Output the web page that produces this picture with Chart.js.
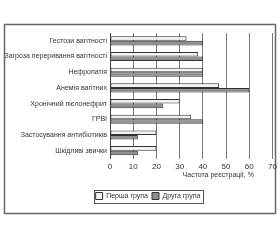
<!DOCTYPE html>
<html><head><meta charset="utf-8">
<script src="https://cdn.jsdelivr.net/npm/chart.js@4.4.0/dist/chart.umd.min.js"></script>
<style>html,body{margin:0;padding:0;background:#fff}#wrap{width:280px;height:240px}</style>
</head><body><div id="wrap"><canvas id="c" width="280" height="240"></canvas></div>
<script>
const categories = ['Гестози вагітності','Загроза переривання вагітності','Нефропатія','Анемія вагітних','Хронічний пієлонефрит','ГРВІ','Застосування антибіотиків','Шкідливі звички'];
const seriesNames = ['Перша група','Друга група'];
const firstGroup = [33, 38, 40, 47, 30, 35, 20, 20];
const secondGroup = [40, 40, 40, 60, 23, 40, 12, 12];
const xTicks = [0,10,20,30,40,50,60,70];
const xTitle = 'Частота реєстрації, %';

const FONT = "'Liberation Sans', Arial, sans-serif";
const framePlugin = {
  id: 'frame',
  afterLayout(chart){
    const lg = chart.legend;
    if (lg){ lg.left += 11.75; lg.right += 11.75; }
  },
  beforeDraw(chart){
    const ctx = chart.ctx;
    ctx.save();
    ctx.fillStyle='#fff'; ctx.fillRect(0,0,chart.width,chart.height);
    ctx.strokeStyle='#666'; ctx.lineWidth=1.5;
    ctx.strokeRect(4.5,24.5,271,189);
    ctx.restore();
  },
  afterDraw(chart){
    const ctx = chart.ctx;
    const lg = chart.legend;
    ctx.save();
    if (lg && lg.legendHitBoxes && lg.legendHitBoxes.length){
      const hb = lg.legendHitBoxes;
      const l = Math.min(...hb.map(h=>h.left)) - 2;
      const r = Math.max(...hb.map(h=>h.left+h.width)) + 2;
      const t = Math.min(...hb.map(h=>h.top)) - 3;
      const b = Math.max(...hb.map(h=>h.top+h.height)) + 3;
      ctx.strokeStyle='#555'; ctx.lineWidth=1;
      ctx.strokeRect(Math.round(l)+0.5, Math.round(t)+0.5, Math.round(r-l), Math.round(b-t));
    }
    const xs = chart.scales.x;
    ctx.fillStyle='#333'; ctx.font='7px '+FONT; ctx.textAlign='center'; ctx.textBaseline='middle';
    ctx.fillText(xTitle, (xs.left+xs.right)/2 + 27, 175);
    ctx.restore();
  }
};

new Chart(document.getElementById('c'), {
  type:'bar',
  data:{
    labels: categories,
    datasets:[
      {label: seriesNames[0], data: firstGroup, backgroundColor:'#f2f2f2', borderColor:'#333', borderWidth:1, borderSkipped:false},
      {label: seriesNames[1], data: secondGroup, backgroundColor:'#8f8f8f', borderColor:'#333', borderWidth:1, borderSkipped:false}
    ]
  },
  options:{
    indexAxis:'y',
    responsive:false, animation:false,
    layout:{padding:{left:0, right:7.5, top:33, bottom:30.5}},
    datasets:{bar:{categoryPercentage:0.58, barPercentage:1}},
    scales:{
      x:{
        min:0, max:70,
        afterBuildTicks(s){ s.ticks = xTicks.map(v=>({value:v})); },
        afterFit(s){ s.height = 30; },
        grid:{color:'#777', lineWidth:1, drawTicks:false},
        border:{display:false},
        ticks:{color:'#333', font:{family:FONT, size:8}, padding:3}
      },
      y:{
        afterFit(s){ s.width = 110; },
        grid:{display:false, drawTicks:false},
        border:{display:true, color:'#444', width:1},
        ticks:{color:'#333', font:{family:FONT, size:7}, padding:3, autoSkip:false}
      }
    },
    plugins:{
      legend:{
        position:'bottom',
        labels:{boxWidth:7, boxHeight:7, padding:4, color:'#333', font:{family:FONT, size:7}}
      },
      tooltip:{enabled:false}
    }
  },
  plugins:[framePlugin]
});
</script></body></html>
